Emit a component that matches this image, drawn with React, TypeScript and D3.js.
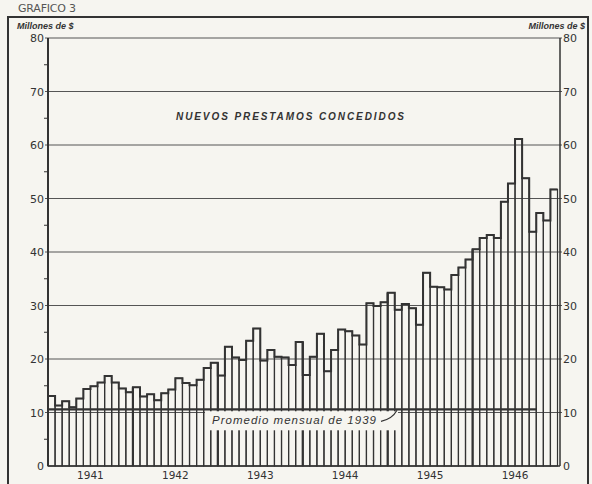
import React, { useEffect, useRef } from 'react';
import * as d3 from 'd3';

// monthly new loans granted, millions of $
const years = ['1941', '1942', '1943', '1944', '1945', '1946'];
const loans1941 = [13.1, 11.3, 12.1, 11.0, 12.6, 14.4, 14.9, 15.6, 16.8, 15.6, 14.5, 13.8];
const loans1942 = [14.7, 13.0, 13.4, 12.3, 13.6, 14.3, 16.4, 15.5, 15.1, 16.1, 18.3, 19.3];
const loans1943 = [16.9, 22.3, 20.3, 19.8, 23.4, 25.7, 19.7, 21.7, 20.4, 20.3, 18.9, 23.2];
const loans1944 = [17.0, 20.4, 24.7, 17.7, 21.7, 25.5, 25.2, 24.4, 22.7, 30.4, 29.9, 30.6];
const loans1945 = [32.4, 29.2, 30.3, 29.5, 26.4, 36.1, 33.5, 33.4, 33.0, 35.7, 37.1, 38.6];
const loans1946 = [40.5, 42.6, 43.2, 42.6, 49.4, 52.8, 61.1, 53.8, 43.8, 47.3, 45.9, 51.7];
const yTicks = [0, 10, 20, 30, 40, 50, 60, 70, 80];
const average1939 = 10.6;

const INK = '#333';
const PAPER = '#f6f5f0';

export default function App() {
  const svgRef = useRef<SVGSVGElement>(null);

  useEffect(() => {
    if (!svgRef.current) return;
    const svg = d3.select(svgRef.current);
    svg.selectAll('*').remove();

    const values = [...loans1941, ...loans1942, ...loans1943, ...loans1944, ...loans1945, ...loans1946];

    const x = d3.scaleBand<number>().domain(d3.range(values.length)).range([48, 557.5]).padding(0);
    const y = d3.scaleLinear().domain([0, 80]).range([466, 38]);
    const xYear = d3.scaleBand<string>().domain(years).range([48, 557.5]);
    const right = 560;

    // paper
    svg.append('rect').attr('width', 592).attr('height', 484).attr('fill', PAPER);

    // frame
    svg.append('path').attr('d', 'M8,484 V17 H588 V484')
      .attr('fill', 'none').attr('stroke', INK).attr('stroke-width', 2);

    svg.append('text')
      .attr('x', 18).attr('y', 12)
      .attr('font-family', 'DejaVu Sans').attr('font-size', 11)
      .attr('fill', '#555').attr('textLength', 58).attr('lengthAdjust', 'spacing')
      .text('GRAFICO 3');

    // gridlines
    svg.append('g').selectAll('line')
      .data(yTicks.filter(d => d > 0))
      .join('line')
      .attr('x1', 45).attr('x2', right + 2)
      .attr('y1', d => y(d)).attr('y2', d => y(d))
      .attr('stroke', '#555').attr('stroke-width', 1);

    // minor ticks
    svg.append('g').selectAll('line')
      .data(d3.range(5, 80, 10))
      .join('line')
      .attr('x1', 44).attr('x2', 48)
      .attr('y1', d => y(d)).attr('y2', d => y(d))
      .attr('stroke', INK).attr('stroke-width', 1);

    // bars
    svg.append('g').selectAll('rect')
      .data(values)
      .join('rect')
      .attr('x', (_, i) => x(i)!)
      .attr('y', d => y(d))
      .attr('width', x.bandwidth())
      .attr('height', d => y(0) - y(d))
      .attr('fill', 'none')
      .attr('stroke', INK)
      .attr('stroke-width', 1.2);

    // heavier top outline
    const steps = values.flatMap((v, i) => [[x(i)!, y(v)], [x(i)! + x.bandwidth(), y(v)]] as [number, number][]);
    svg.append('path')
      .attr('d', d3.line()(steps))
      .attr('fill', 'none')
      .attr('stroke', INK)
      .attr('stroke-width', 2);

    // year separators
    svg.append('g').selectAll('line')
      .data(d3.range(12, values.length, 12))
      .join('line')
      .attr('x1', i => x(i)!).attr('x2', i => x(i)!)
      .attr('y1', y(0))
      .attr('y2', i => y(Math.max(values[i], values[i - 1])))
      .attr('stroke', INK).attr('stroke-width', 2.2);

    // axes
    svg.append('line').attr('x1', 48).attr('x2', 48).attr('y1', y(0)).attr('y2', y(80))
      .attr('stroke', INK).attr('stroke-width', 2);
    svg.append('line').attr('x1', right).attr('x2', right).attr('y1', y(0)).attr('y2', y(80))
      .attr('stroke', INK).attr('stroke-width', 1.5);
    svg.append('line').attr('x1', 48).attr('x2', right).attr('y1', y(0)).attr('y2', y(0))
      .attr('stroke', INK).attr('stroke-width', 1.5);

    // label box for the 1939 average
    svg.append('rect')
      .attr('x', 205).attr('y', y(average1939) + 2)
      .attr('width', 193).attr('height', 19)
      .attr('fill', PAPER);

    svg.append('line')
      .attr('x1', 48).attr('x2', 537)
      .attr('y1', y(average1939)).attr('y2', y(average1939))
      .attr('stroke', INK).attr('stroke-width', 2.2);

    svg.append('text')
      .attr('x', 212).attr('y', y(average1939) + 15)
      .attr('font-family', 'Liberation Sans').attr('font-style', 'italic')
      .attr('font-size', 11.5).attr('fill', INK)
      .attr('textLength', 164).attr('lengthAdjust', 'spacing')
      .text('Promedio mensual de 1939');
    svg.append('path')
      .attr('d', `M381,${y(average1939) + 12} Q392,${y(average1939) + 10} 397,${y(average1939) + 1}`)
      .attr('fill', 'none').attr('stroke', INK).attr('stroke-width', 1.2);

    // title
    svg.append('text')
      .attr('x', 176).attr('y', 120)
      .attr('font-family', 'Liberation Sans').attr('font-style', 'italic').attr('font-weight', 'bold')
      .attr('font-size', 10).attr('fill', INK)
      .attr('textLength', 228).attr('lengthAdjust', 'spacing')
      .text('NUEVOS PRESTAMOS CONCEDIDOS');

    // axis labels
    const lab = svg.append('g')
      .attr('font-family', 'DejaVu Sans').attr('font-size', 11).attr('fill', INK);
    lab.selectAll('text.l')
      .data(yTicks)
      .join('text').attr('class', 'l')
      .attr('x', 44).attr('y', d => y(d) + 4)
      .attr('text-anchor', 'end')
      .text(d => d);
    lab.selectAll('text.r')
      .data(yTicks)
      .join('text').attr('class', 'r')
      .attr('x', right + 3).attr('y', d => y(d) + 4)
      .text(d => d);
    lab.selectAll('text.yr')
      .data(years)
      .join('text').attr('class', 'yr')
      .attr('x', d => xYear(d)! + xYear.bandwidth() / 2)
      .attr('y', 479)
      .attr('text-anchor', 'middle')
      .attr('font-size', 10.5)
      .text(d => d);

    const unit = svg.append('g')
      .attr('font-family', 'Liberation Sans').attr('font-style', 'italic').attr('font-weight', 'bold')
      .attr('font-size', 9).attr('fill', INK);
    unit.append('text').attr('x', 17).attr('y', 29).text('Millones de $');
    unit.append('text').attr('x', 585).attr('y', 29).attr('text-anchor', 'end').text('Millones de $');
  }, []);

  return (
    <svg ref={svgRef} width={592} height={484}
      style={{ position: 'absolute', left: 0, top: 0, display: 'block' }} />
  );
}
